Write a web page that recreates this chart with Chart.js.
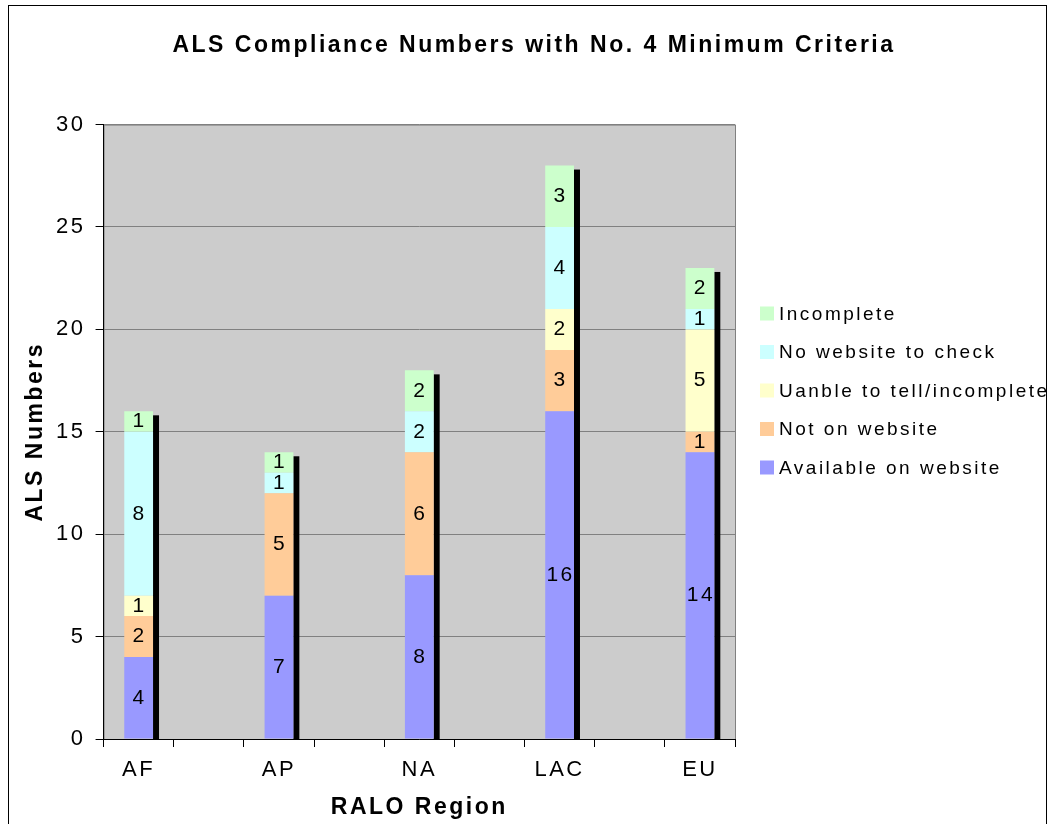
<!DOCTYPE html>
<html>
<head>
<meta charset="utf-8">
<script src="https://cdn.jsdelivr.net/npm/chart.js@4"></script>
<style>
  body { margin: 0; background: #fff; }
  #frame { position: absolute; left: 8px; top: 5px; width: 1037px; height: 830px; border: 1px solid #000; }
</style>
</head>
<body>
<div id="frame"><canvas id="chart1" width="1037" height="818"></canvas></div>
<script>
// categories, blanks in between like the original sheet
var categories = ['AF', '', 'AP', '', 'NA', '', 'LAC', '', 'EU'];
var available = [4, null, 7, null, 8, null, 16, null, 14];
var notOnSite = [2, null, 5, null, 6, null, 3, null, 1];
var unable = [1, null, 0, null, 0, null, 2, null, 5];
var noWebsite = [8, null, 1, null, 2, null, 4, null, 1];
var incomplete = [1, null, 1, null, 2, null, 3, null, 2];
var yTicks = [0, 5, 10, 15, 20, 25, 30];

var font = "'Liberation Sans', Arial, sans-serif";
var letterGap = '2.5px';

// old excel text is spaced out a bit
var spacing = {
    id: 'spacing',
    beforeLayout: function (chart) { chart.ctx.letterSpacing = letterGap; },
    beforeDraw: function (chart) { chart.ctx.letterSpacing = letterGap; }
};

// gray plot background
var plotBg = {
    id: 'plotBg',
    beforeDraw: function (chart) {
        var a = chart.chartArea, ctx = chart.ctx;
        ctx.save();
        ctx.fillStyle = '#cccccc';
        ctx.fillRect(a.left, a.top, a.right - a.left, a.bottom - a.top);
        ctx.strokeStyle = '#808080';
        ctx.lineWidth = 1;
        ctx.strokeRect(a.left + 0.5, a.top + 0.5, a.right - a.left, a.bottom - a.top);
        ctx.restore();
    }
};

// black shadow at the right side of each stack
var barShadow = {
    id: 'barShadow',
    beforeDatasetsDraw: function (chart) {
        var ctx = chart.ctx;
        var base = chart.scales.y.getPixelForValue(0);
        var n = chart.data.labels.length;
        ctx.save();
        ctx.fillStyle = '#000';
        for (var i = 0; i < n; i++) {
            var top = null, el0 = null;
            chart.data.datasets.forEach(function (ds, d) {
                var el = chart.getDatasetMeta(d).data[i];
                if (!el || ds.data[i] == null) return;
                el0 = el;
                if (top === null || el.y < top) top = el.y;
            });
            if (el0 === null) continue;
            var right = el0.x + el0.width / 2;
            ctx.fillRect(right, top + 4, 6, base - top - 4);
        }
        ctx.restore();
    }
};

// numbers inside the segments
var segLabels = {
    id: 'segLabels',
    afterDatasetsDraw: function (chart) {
        var ctx = chart.ctx;
        ctx.save();
        ctx.font = '21px ' + font;
        ctx.fillStyle = '#000';
        ctx.textAlign = 'center';
        ctx.textBaseline = 'middle';
        chart.data.datasets.forEach(function (ds, d) {
            chart.getDatasetMeta(d).data.forEach(function (el, i) {
                var v = ds.data[i];
                if (!v) return;
                ctx.fillText(String(v), el.x + 1, (el.y + el.base) / 2);
            });
        });
        ctx.restore();
    }
};

// legend as its own layout box on the right (title keeps full width)
var sideLegend = {
    id: 'sideLegend',
    beforeInit: function (chart) {
        var box = {
            position: 'right',
            weight: 1000,
            fullSize: false,
            options: {},
            update: function (maxWidth, maxHeight) {
                this.width = 311;
                this.height = maxHeight;
            },
            isHorizontal: function () { return false; },
            draw: function () {
                var ctx = chart.ctx;
                var x0 = this.left + 25;
                var y0 = 307.5;
                var step = 38.5;
                var list = chart.data.datasets.slice().reverse();
                ctx.save();
                ctx.letterSpacing = letterGap;
                ctx.font = '19px ' + font;
                ctx.textAlign = 'left';
                ctx.textBaseline = 'middle';
                list.forEach(function (ds, k) {
                    var y = y0 + k * step;
                    ctx.fillStyle = ds.backgroundColor;
                    ctx.fillRect(x0, y - 7, 14, 14);
                    ctx.fillStyle = '#000';
                    ctx.fillText(ds.label, x0 + 19, y + 1);
                });
                ctx.restore();
            }
        };
        Chart.layouts.addBox(chart, box);
    }
};

var data = {
    labels: categories,
    datasets: [
        { label: 'Available on website', data: available, backgroundColor: '#9999ff' },
        { label: 'Not on website', data: notOnSite, backgroundColor: '#ffcc99' },
        { label: 'Uanble to tell/incomplete', data: unable, backgroundColor: '#ffffcc' },
        { label: 'No website to check', data: noWebsite, backgroundColor: '#ccffff' },
        { label: 'Incomplete', data: incomplete, backgroundColor: '#ccffcc' }
    ]
};

var config = {
    type: 'bar',
    data: data,
    options: {
        responsive: false,
        animation: false,
        categoryPercentage: 1,
        barPercentage: 0.41,
        layout: { padding: { left: 13, right: 0, top: 0, bottom: 3 } },
        plugins: {
            title: {
                display: true,
                text: 'ALS Compliance Numbers with No. 4 Minimum Criteria',
                color: '#000',
                font: { family: font, size: 23, weight: 'bold' },
                padding: { top: 26, bottom: 65 }
            },
            legend: { display: false },
            tooltip: { enabled: false }
        },
        scales: {
            x: {
                stacked: true,
                grid: { offset: true, drawOnChartArea: false, color: '#000', tickLength: 8 },
                border: { color: '#000' },
                ticks: { color: '#000', font: { family: font, size: 22 }, padding: 10, maxRotation: 0, autoSkip: false },
                title: { display: true, text: 'RALO Region', color: '#000', font: { family: font, size: 23, weight: 'bold' }, padding: { top: 0, bottom: 0 } }
            },
            y: {
                stacked: true,
                min: 0,
                max: 30,
                afterBuildTicks: function (axis) {
                    axis.ticks = yTicks.map(function (v) { return { value: v }; });
                },
                grid: { color: '#808080', tickColor: '#000', tickLength: 8 },
                border: { color: '#000' },
                ticks: { color: '#000', font: { family: font, size: 22 }, padding: 10 },
                title: { display: true, text: 'ALS Numbers', color: '#000', font: { family: font, size: 23, weight: 'bold' }, padding: { top: 0, bottom: -3.5 } }
            }
        }
    },
    plugins: [spacing, plotBg, barShadow, segLabels, sideLegend]
};

var chart1 = new Chart(document.getElementById('chart1'), config);
</script>
</body>
</html>
